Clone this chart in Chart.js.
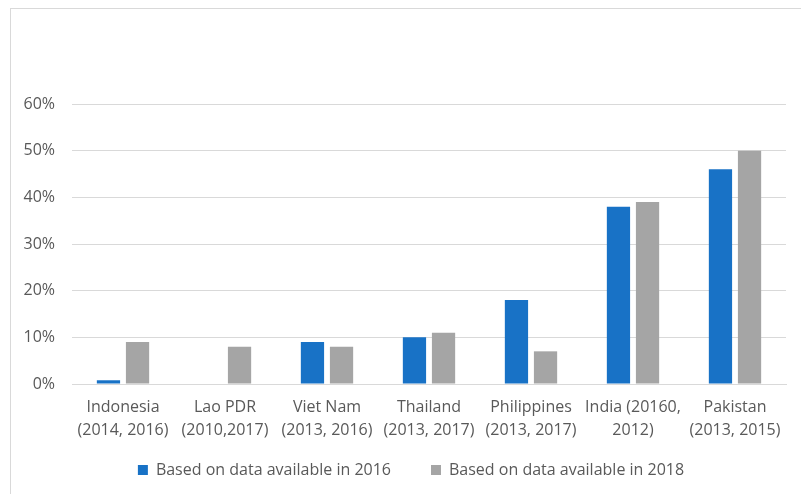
<!DOCTYPE html>
<html>
<head>
<meta charset="utf-8">
<script src="https://cdn.jsdelivr.net/npm/chart.js@4.4.1/dist/chart.umd.min.js"></script>
<style>
  html, body { margin: 0; padding: 0; background: #ffffff; }
  #wrap { position: relative; width: 801px; height: 494px; overflow: hidden; }
  #frame { position: absolute; left: 10px; top: 8px; width: 900px; height: 600px;
           border-left: 1px solid #d9d9d9; border-top: 1px solid #d9d9d9; }
  canvas { position: absolute; left: 0; top: 0; }
</style>
</head>
<body>
<div id="wrap">
  <div id="frame"></div>
  <canvas id="chart" width="801" height="494"></canvas>
</div>
<script>
// Countries with the years of the two survey rounds
const categories = [
  ["Indonesia", "(2014, 2016)"],
  ["Lao PDR", "(2010,2017)"],
  ["Viet Nam", "(2013, 2016)"],
  ["Thailand", "(2013, 2017)"],
  ["Philippines", "(2013, 2017)"],
  ["India (20160,", "2012)"],
  ["Pakistan", "(2013, 2015)"]
];
const seriesNames = ["Based on data available in 2016", "Based on data available in 2018"];
// Shares in percent
const values2016 = [0.8, 0, 9, 10, 18, 38, 46];
const values2018 = [9, 8, 8, 11, 7, 39, 50];
const yTicks = [0, 10, 20, 30, 40, 50, 60];

const textColor = "#595959";
const fontFamily = "'Open Sans', 'Noto Sans', sans-serif";
const axisLabelHeight = 62;
const legendPad = 40;
const legendRowCentre = 470;

// Nudge the legend row: centred over the frame, sitting just under the axis labels
const legendPlacement = {
  id: "legendPlacement",
  afterLayout(chart) {
    const lg = chart.legend;
    lg.left += 18; lg.right += 18;
    const h = lg.height;
    const top = legendRowCentre - legendPad - 8;
    lg.top = top; lg.bottom = top + h;
  }
};

new Chart(document.getElementById("chart"), {
  type: "bar",
  data: {
    labels: categories,
    datasets: [
      { label: seriesNames[0], data: values2016, backgroundColor: "#1872c6",
        categoryPercentage: 0.57, barPercentage: 0.8 },
      { label: seriesNames[1], data: values2018, backgroundColor: "#a5a5a5",
        categoryPercentage: 0.57, barPercentage: 0.8 }
    ]
  },
  plugins: [legendPlacement],
  options: {
    responsive: false,
    animation: false,
    layout: { padding: { top: 104, right: 15, left: 0, bottom: -18 } },
    plugins: {
      tooltip: { enabled: false },
      legend: {
        position: "bottom",
        labels: {
          boxWidth: 10, boxHeight: 10, padding: legendPad,
          color: textColor,
          font: { family: fontFamily, size: 16 }
        }
      }
    },
    scales: {
      x: {
        grid: { display: false },
        border: { color: "#d9d9d9" },
        ticks: {
          color: textColor, maxRotation: 0, autoSkip: false, padding: 4,
          font: { family: fontFamily, size: 16, lineHeight: 1.44 }
        },
        afterFit: (s) => { s.height = axisLabelHeight; }
      },
      y: {
        min: 0, max: 60,
        afterBuildTicks: (s) => { s.ticks = yTicks.map(v => ({ value: v })); },
        grid: { color: "#d9d9d9", lineWidth: 1, drawTicks: false },
        border: { display: false },
        ticks: {
          color: textColor, padding: 17,
          font: { family: fontFamily, size: 16 },
          callback: (v) => v + "%"
        },
        afterFit: (s) => { s.width = 72; }
      }
    }
  }
});
</script>
</body>
</html>
